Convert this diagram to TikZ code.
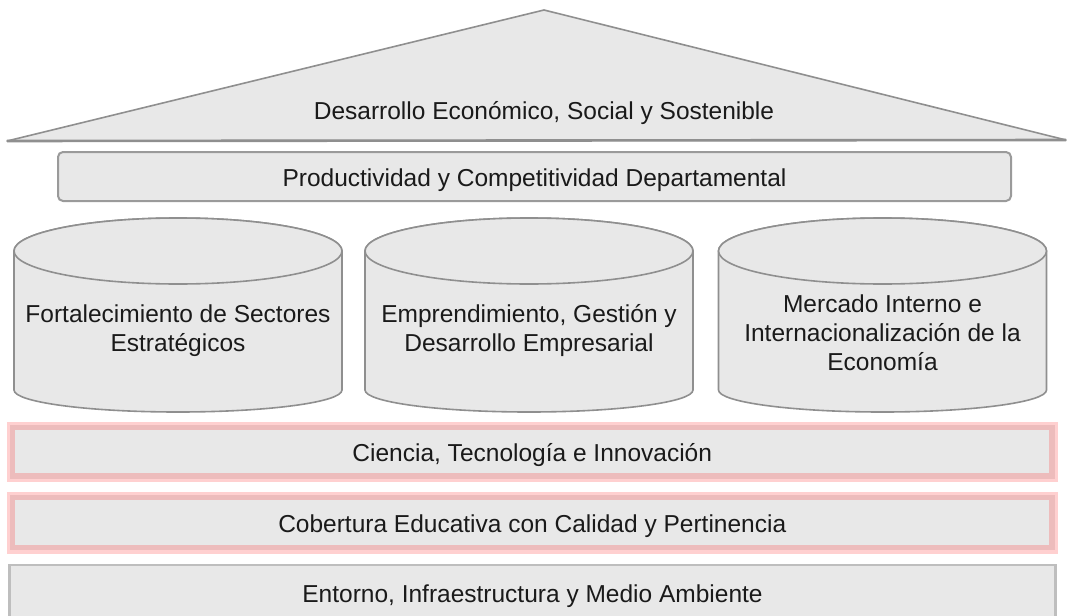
\documentclass[tikz,border=0pt]{standalone}
\usepackage{fontspec}
\setmainfont{Liberation Sans}
\definecolor{boxgray}{HTML}{E8E8E8}
\definecolor{edgegray}{HTML}{8F8F8F}
\definecolor{boxedge}{HTML}{9A9A9A}
\definecolor{lightedge}{HTML}{BEBEBE}
\definecolor{txt}{HTML}{1A1A1A}
\definecolor{pinklight}{HTML}{FFD0D0}
\definecolor{pinkdark}{HTML}{EDBCBC}
\begin{document}
\begin{tikzpicture}[x=1pt,y=-1pt,
  basefont/.style={font=\fontsize{24.5}{29}\selectfont, text=txt},
  txtstyle/.style={basefont, text height=20pt, text depth=0pt},
  lbl/.style={txtstyle, align=center, inner sep=0pt},
  multilbl/.style={basefont, align=center, inner sep=0pt},
  solidshape/.style={fill=boxgray, draw=edgegray, line width=1.6pt, line join=round},
  pinkbar/.style={txtstyle, fill=boxgray, draw=pinkdark, line width=5.5pt, inner sep=0pt,
    preaction={draw=pinklight, line width=12pt}, minimum width=1039.5pt},
  topbar/.style={txtstyle, fill=boxgray, draw=boxedge, line width=2pt, rounded corners=5pt, inner sep=0pt},
  basebar/.style={txtstyle, fill=boxgray, draw=lightedge, line width=2.5pt, inner sep=0pt}
]
\useasboundingbox (0,0) rectangle (1069,616);
\clip (0,0) rectangle (1069,616);

% roof
\draw[solidshape] (7,141) -- (544,10) -- (1066,140) -- cycle;
\draw[edgegray, line width=2.6pt] (7,141) -- (1066,140);
\node[lbl] (roof) at (544,109) {Desarrollo Económico, Social y Sostenible};

% productivity bar
\node[topbar, minimum width=953pt, minimum height=49pt] (prod) at (534.5,176.5)
  {Productividad y Competitividad Departamental};

% cylinders
\foreach \cx in {178, 529, 882.5}{
  \path[solidshape] (\cx-164,251) -- (\cx-164,390)
    arc[start angle=180, end angle=360, x radius=164pt, y radius=22pt]
    -- (\cx+164,251)
    arc[start angle=0, end angle=180, x radius=164pt, y radius=33pt] -- cycle;
  \draw[solidshape] (\cx,251) ellipse [x radius=164pt, y radius=33pt];
}
\node[multilbl] (sect) at (178,330.5) {Fortalecimiento de Sectores\\Estratégicos};
\node[multilbl] (empr) at (529,330.5) {Emprendimiento, Gestión y\\Desarrollo Empresarial};
\node[multilbl] (merc) at (882.5,333) {Mercado Interno e\\Internacionalización de la\\Economía};

% foundation bars
\node[pinkbar, minimum height=48.5pt] (cti) at (532.25,451.75) {Ciencia, Tecnología e Innovación};
\node[pinkbar, minimum height=50pt] (edu) at (532.25,522.5) {Cobertura Educativa con Calidad y Pertinencia};
\node[basebar, minimum width=1046pt, minimum height=54pt] (env) at (532.5,592)
  {Entorno, Infraestructura y Medio Ambiente};
\end{tikzpicture}
\end{document}
